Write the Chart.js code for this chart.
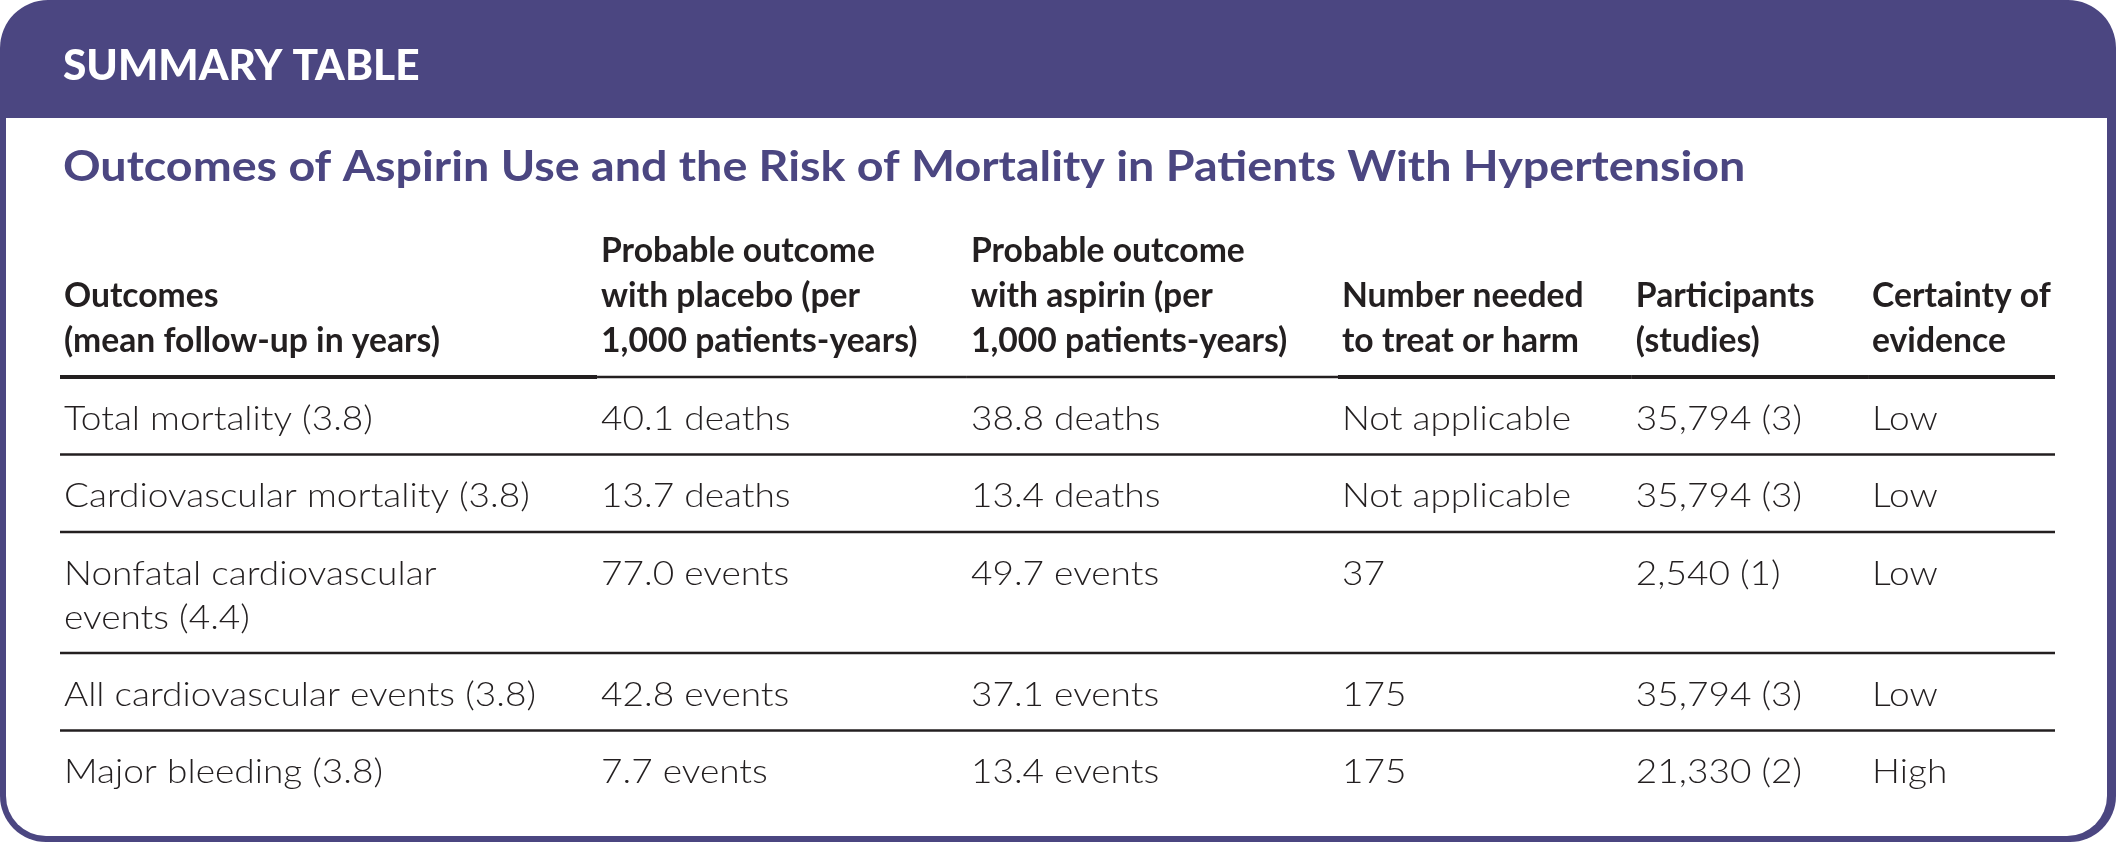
<!DOCTYPE html>
<html>
<head>
<meta charset="utf-8">
<script src="https://cdn.jsdelivr.net/npm/chart.js@4/dist/chart.umd.min.js"></script>
<style>
    html, body { margin: 0; padding: 0; background: #fff; }
    canvas { display: block; }
</style>
</head>
<body>
<canvas id="summary" width="2117" height="844"></canvas>
<script>
// Table content
const boxTitle = 'SUMMARY TABLE';
const tableTitle = 'Outcomes of Aspirin Use and the Risk of Mortality in Patients With Hypertension';
const columnHeaders = [
    ['Outcomes', '(mean follow-up in years)'],
    ['Probable outcome', 'with placebo (per', '1,000 patients-years)'],
    ['Probable outcome', 'with aspirin (per', '1,000 patients-years)'],
    ['Number needed', 'to treat or harm'],
    ['Participants', '(studies)'],
    ['Certainty of', 'evidence']
];
const outcomes = [
    ['Total mortality (3.8)'],
    ['Cardiovascular mortality (3.8)'],
    ['Nonfatal cardiovascular', 'events (4.4)'],
    ['All cardiovascular events (3.8)'],
    ['Major bleeding (3.8)']
];
const placeboRates = ['40.1 deaths', '13.7 deaths', '77.0 events', '42.8 events', '7.7 events'];
const aspirinRates = ['38.8 deaths', '13.4 deaths', '49.7 events', '37.1 events', '13.4 events'];
const numberNeeded = ['Not applicable', 'Not applicable', '37', '175', '175'];
const participants = ['35,794 (3)', '35,794 (3)', '2,540 (1)', '35,794 (3)', '21,330 (2)'];
const certainty = ['Low', 'Low', 'Low', 'Low', 'High'];

// Layout (scale units)
const colX = [0.2, 27.12, 45.66, 64.26, 78.99, 90.83];
const HEAD_LINE_H = 45;
const HEAD_LAST_BASE = 132;
const HEAD_RULE = 157;
const ROW_FIRST_BASE = 52.5;
const BODY_LINE_H = 44;
const ROW_H = 77.5;
const ROW_EXTRA_LINE = 43.5;

const PURPLE = '#4b4681';
const INK = '#231f20';

const columns = [outcomes, placeboRates, aspirinRates, numberNeeded, participants, certainty];
const cellLines = (v) => Array.isArray(v) ? v : [v];
const rowLineCounts = outcomes.map((_, r) => Math.max(...columns.map(col => cellLines(col[r]).length)));
const rowTops = [];
let yCursor = HEAD_RULE;
rowLineCounts.forEach(n => {
    rowTops.push(yCursor);
    yCursor += ROW_H + ROW_EXTRA_LINE * (n - 1);
});
const Y_MAX = yCursor;

function roundRectPath(ctx, x, y, w, h, r) {
    ctx.beginPath();
    ctx.moveTo(x + r.tl, y);
    ctx.lineTo(x + w - r.tr, y);
    ctx.arcTo(x + w, y, x + w, y + r.tr, r.tr);
    ctx.lineTo(x + w, y + h - r.br);
    ctx.arcTo(x + w, y + h, x + w - r.br, y + h, r.br);
    ctx.lineTo(x + r.bl, y + h);
    ctx.arcTo(x, y + h, x, y + h - r.bl, r.bl);
    ctx.lineTo(x, y + r.tl);
    ctx.arcTo(x, y, x + r.tl, y, r.tl);
    ctx.closePath();
}

// text with a horizontal stretch factor
function stretchText(ctx, txt, x, y, sx) {
    ctx.save();
    ctx.translate(x, y);
    ctx.scale(sx, 1);
    ctx.fillText(txt, 0, 0);
    ctx.restore();
}

// Frame, header band and titles
const framePlugin = {
    id: 'frame',
    beforeDraw(chart) {
        const ctx = chart.ctx;
        const W = chart.width, H = chart.height;
        ctx.save();
        ctx.fillStyle = '#fff';
        ctx.fillRect(0, 0, W, H);
        ctx.fillStyle = PURPLE;
        roundRectPath(ctx, 0, 0, W - 1, H - 2, { tl: 48, tr: 48, br: 46, bl: 46 });
        ctx.fill();
        ctx.fillStyle = '#fff';
        roundRectPath(ctx, 6, 118, W - 16, H - 126, { tl: 0, tr: 0, br: 40, bl: 40 });
        ctx.fill();

        ctx.fillStyle = '#fff';
        ctx.textBaseline = 'alphabetic';
        ctx.textAlign = 'left';
        ctx.font = '900 42px Lato';
        stretchText(ctx, boxTitle, 63, 80, 1.01);

        ctx.fillStyle = PURPLE;
        ctx.font = 'bold 42px Lato';
        stretchText(ctx, tableTitle, 63, 181, 1.11);
        ctx.restore();
    }
};

// Header row, rules and cell text
const tablePlugin = {
    id: 'tableCells',
    afterDatasetsDraw(chart) {
        const ctx = chart.ctx;
        const xs = chart.scales.x, ys = chart.scales.y;
        const area = chart.chartArea;
        ctx.save();
        ctx.fillStyle = INK;
        ctx.strokeStyle = INK;
        ctx.textAlign = 'left';
        ctx.textBaseline = 'alphabetic';

        // column headers, bottom aligned
        ctx.font = 'bold 34px Lato';
        columnHeaders.forEach((lines, c) => {
            const px = xs.getPixelForValue(colX[c]);
            lines.forEach((txt, i) => {
                const v = HEAD_LAST_BASE - HEAD_LINE_H * (lines.length - 1 - i);
                stretchText(ctx, txt, px, ys.getPixelForValue(v), 0.99);
            });
        });

        // header rule, heavier under some columns
        const heavy = [4, 2.5, 2.5, 4, 4, 4];
        const yRule = ys.getPixelForValue(HEAD_RULE);
        columns.forEach((_, c) => {
            const x0 = c === 0 ? area.left : xs.getPixelForValue(colX[c]) - 4;
            const x1 = c === columns.length - 1 ? area.right : xs.getPixelForValue(colX[c + 1]) - 4;
            ctx.lineWidth = heavy[c];
            ctx.beginPath();
            ctx.moveTo(x0, yRule);
            ctx.lineTo(x1, yRule);
            ctx.stroke();
        });

        // row separators
        ctx.lineWidth = 2.5;
        rowTops.slice(1).forEach(t => {
            const y = ys.getPixelForValue(t);
            ctx.beginPath();
            ctx.moveTo(area.left, y);
            ctx.lineTo(area.right, y);
            ctx.stroke();
        });

        // cells, placed at each point element
        ctx.font = '300 34px Lato';
        chart.data.datasets.forEach((ds, c) => {
            const meta = chart.getDatasetMeta(c);
            meta.data.forEach((pt, r) => {
                cellLines(columns[c][r]).forEach((txt, i) => {
                    const y = ys.getPixelForValue(ds.data[r].y + BODY_LINE_H * i);
                    stretchText(ctx, txt, pt.x, y, 1.09);
                });
            });
        });
        ctx.restore();
    }
};

const datasets = columns.map((col, c) => ({
    label: columnHeaders[c].join(' '),
    data: col.map((_, r) => ({ x: colX[c], y: rowTops[r] + ROW_FIRST_BASE })),
    pointRadius: 0,
    pointHoverRadius: 0,
    showLine: false
}));

new Chart(document.getElementById('summary'), {
    type: 'scatter',
    data: { datasets },
    options: {
        responsive: false,
        animation: false,
        events: [],
        layout: { padding: { left: 60, right: 62, top: 220, bottom: 844 - 220 - Y_MAX } },
        plugins: {
            legend: { display: false },
            tooltip: { enabled: false }
        },
        scales: {
            x: { type: 'linear', min: 0, max: 100, display: false },
            y: { type: 'linear', min: 0, max: Y_MAX, reverse: true, display: false }
        }
    },
    plugins: [framePlugin, tablePlugin]
});
</script>
</body>
</html>
